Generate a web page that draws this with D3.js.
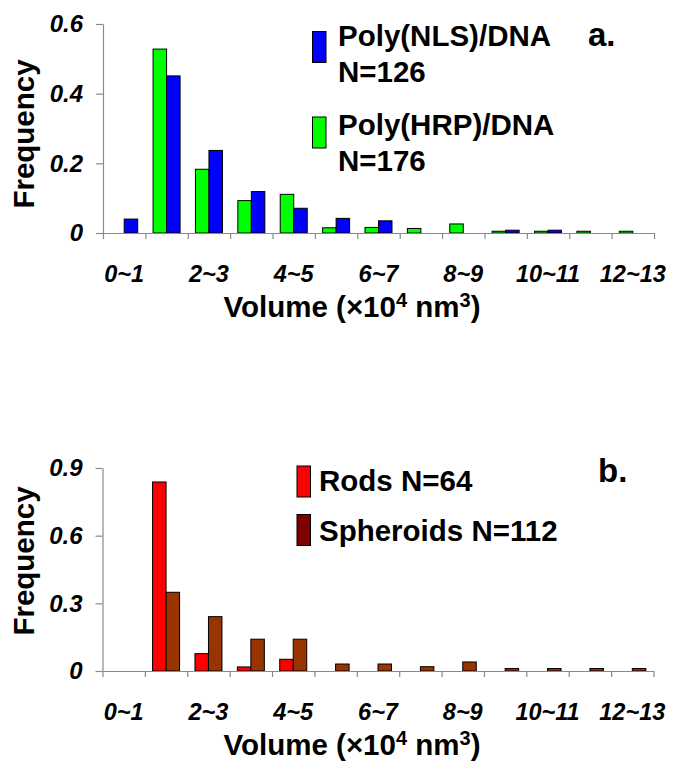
<!DOCTYPE html>
<html>
<head>
<meta charset="utf-8">
<script src="https://cdn.jsdelivr.net/npm/d3@7"></script>
<style>
  html, body { margin: 0; padding: 0; background: #fff; }
  svg { display: block; font-family: Arial, "Liberation Sans", sans-serif; }
</style>
</head>
<body>
<script>
// ---- data ----
const categories = ["0~1","1~2","2~3","3~4","4~5","5~6","6~7","7~8","8~9","9~10","10~11","11~12","12~13"];
const xTickLabels = ["0~1","2~3","4~5","6~7","8~9","10~11","12~13"];

const seriesA = ["Poly(HRP)/DNA", "Poly(NLS)/DNA"];
const hrpValues = [0, 0.528, 0.183, 0.093, 0.111, 0.015, 0.016, 0.013, 0.026, 0.005, 0.005, 0.005, 0.005];
const nlsValues = [0.040, 0.451, 0.237, 0.119, 0.071, 0.042, 0.035, 0, 0, 0.008, 0.008, 0, 0];
const yTicksA = [0, 0.2, 0.4, 0.6];

const seriesB = ["Rods", "Spheroids"];
const rodsValues = [0, 0.838, 0.077, 0.018, 0.052, 0, 0, 0, 0, 0, 0, 0, 0];
const spheroidValues = [0, 0.349, 0.241, 0.141, 0.141, 0.031, 0.031, 0.019, 0.040, 0.011, 0.011, 0.011, 0.011];
const yTicksB = [0, 0.3, 0.6, 0.9];

const W = 679, H = 776;
const svg = d3.select("body").append("svg").attr("width", W).attr("height", H);
svg.append("rect").attr("width", W).attr("height", H).attr("fill", "#fff");

function panel(cfg) {
  const g = svg.append("g");
  const x = d3.scaleBand().domain(categories).range([cfg.left, cfg.right]).padding(0);
  const xs = d3.scaleBand().domain(cfg.series).range([0, x.bandwidth()]).paddingInner(0).paddingOuter(0.57);
  const xb = d3.scaleLinear().domain([0, categories.length]).range([cfg.left, cfg.right]);
  const y = d3.scaleLinear().domain([0, cfg.ymax]).range([cfg.bottom, cfg.top]);

  // bars
  cfg.series.forEach((s, si) => {
    const vals = cfg.values[si];
    g.append("g").selectAll("rect")
      .data(categories.map((c, i) => ({c, v: vals[i]})).filter(d => d.v > 0))
      .join("rect")
      .attr("x", d => x(d.c) + xs(s))
      .attr("y", d => y(d.v))
      .attr("width", xs.bandwidth())
      .attr("height", d => y(0) - y(d.v))
      .attr("fill", cfg.colors[si])
      .attr("stroke", "#000")
      .attr("stroke-width", 1);
  });

  // x axis
  const xAxis = g.append("g").attr("transform", `translate(0,${cfg.bottom})`)
    .call(d3.axisBottom(xb).tickValues(d3.range(categories.length + 1)).tickFormat("").tickSize(6).tickSizeOuter(0));
  xAxis.selectAll("path,line").attr("stroke", "#8a8a8a").attr("stroke-width", 1.2);

  // x tick labels
  g.append("g").selectAll("text").data(xTickLabels).join("text")
    .attr("x", d => x(d) + x.bandwidth() / 2)
    .attr("y", cfg.bottom + 49)
    .attr("text-anchor", "middle")
    .attr("font-size", 23.5).attr("font-weight", "bold").attr("font-style", "italic")
    .text(d => d);

  // y axis
  const yAxis = g.append("g").attr("transform", `translate(${cfg.left},0)`)
    .call(d3.axisLeft(y).tickValues(cfg.yTicks).tickSize(7).tickSizeOuter(0).tickPadding(13)
      .tickFormat(d => d === 0 ? "0" : d3.format(".1f")(d)));
  yAxis.selectAll("path,line").attr("stroke", "#8a8a8a").attr("stroke-width", 1.2);
  yAxis.selectAll("text").attr("font-size", 24).attr("font-weight", "bold").attr("font-style", "italic")
    .attr("font-family", "Arial, 'Liberation Sans', sans-serif").attr("fill", "#000");

  // y title
  g.append("text")
    .attr("transform", `translate(34,${cfg.ytitleY}) rotate(-90)`)
    .attr("text-anchor", "middle")
    .attr("font-size", 29.5).attr("font-weight", "bold")
    .text("Frequency");

  // x title
  const t = g.append("text")
    .attr("x", 352).attr("y", cfg.bottom + 84)
    .attr("text-anchor", "middle")
    .attr("font-size", 29.5).attr("font-weight", "bold");
  t.append("tspan").text("Volume (\u00d710");
  t.append("tspan").attr("font-size", 20).attr("dy", -10).text("4");
  t.append("tspan").attr("dy", 10).text(" nm");
  t.append("tspan").attr("font-size", 20).attr("dy", -10).text("3");
  t.append("tspan").attr("dy", 10).text(")");

  // legend
  cfg.legend.forEach(L => {
    g.append("rect").attr("x", L.x).attr("y", L.y).attr("width", 13.5).attr("height", 31)
      .attr("fill", L.color).attr("stroke", "#000").attr("stroke-width", 1);
    L.lines.forEach((line, li) => {
      g.append("text").attr("x", L.tx).attr("y", L.ty + li * 36)
        .attr("font-size", 29.5).attr("font-weight", "bold").text(line);
    });
  });

  g.append("text").attr("x", cfg.tag.x).attr("y", cfg.tag.y)
    .attr("font-size", 33).attr("font-weight", "bold").text(cfg.tag.text);
}

panel({
  left: 103, right: 654, top: 24, bottom: 233, ymax: 0.6, yTicks: yTicksA,
  series: seriesA, values: [hrpValues, nlsValues], colors: ["#00ff00", "#0000ff"],
  ytitleY: 134,
  legend: [
    {x: 312.5, y: 31.5, color: "#0000ff", tx: 338, ty: 46, lines: ["Poly(NLS)/DNA", "N=126"]},
    {x: 312.5, y: 117, color: "#00ff00", tx: 338, ty: 135, lines: ["Poly(HRP)/DNA", "N=176"]}
  ],
  tag: {x: 588, y: 46, text: "a."}
});

panel({
  left: 102.5, right: 653.5, top: 468, bottom: 671, ymax: 0.9, yTicks: yTicksB,
  series: seriesB, values: [rodsValues, spheroidValues], colors: ["#ff0000", "#993300"],
  ytitleY: 561,
  legend: [
    {x: 297, y: 466, color: "#ff0000", tx: 319, ty: 491, lines: ["Rods N=64"]},
    {x: 297, y: 514.5, color: "#800000", tx: 319, ty: 541, lines: ["Spheroids N=112"]}
  ],
  tag: {x: 598, y: 482, text: "b."}
});
</script>
</body>
</html>
